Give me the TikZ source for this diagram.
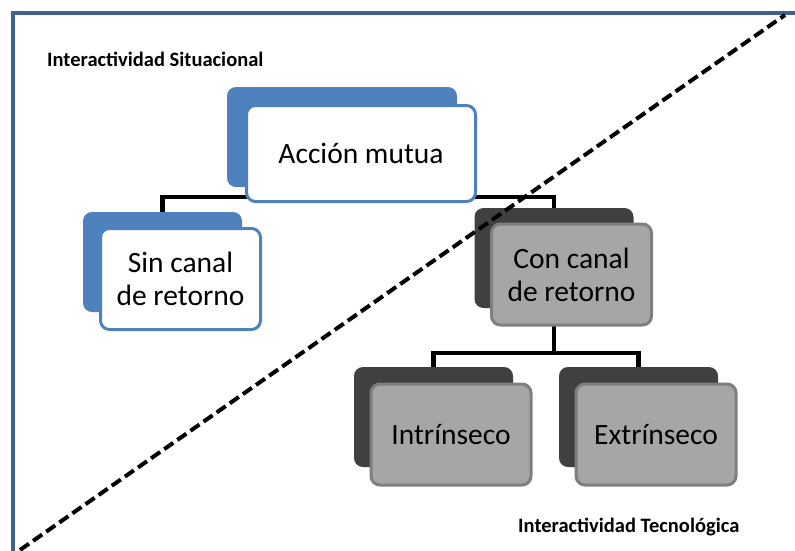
\documentclass[tikz,border=0pt]{standalone}
\usepackage{fontspec}
\setmainfont{Carlito}
\usetikzlibrary{
    backgrounds
}
\definecolor{boxblue}{HTML}{4F81BD}
\definecolor{frameblue}{RGB}{63,98,145}
\definecolor{darkback}{HTML}{404040}
\definecolor{grayfront}{HTML}{A6A6A6}
\definecolor{grayedge}{HTML}{7F7F7F}
\newcommand{\boxtextfont}{\fontsize{29.5}{33}\selectfont}
\tikzset{
    backbox/.style={
        rounded corners=9pt,
        minimum width=159pt,
        minimum height=100pt,
        inner sep=0pt
    },
    frontbox/.style={
        line width=3pt,
        rounded corners=9pt,
        minimum width=160pt,
        minimum height=101pt,
        inner sep=0pt,
        align=center,
        font=\boxtextfont
    },
    backblue/.style={backbox, fill=boxblue},
    frontblue/.style={frontbox, draw=boxblue, fill=white},
    backgray/.style={backbox, fill=darkback},
    frontgray/.style={frontbox, draw=grayedge, fill=grayfront},
    conn/.style={line width=4.5pt, line join=miter},
    cut/.style={line width=4pt, dash pattern=on 11pt off 5pt},
    areatitle/.style={anchor=base west, inner sep=0pt, font=\fontsize{20.5}{24}\selectfont\bfseries}
}

\begin{document}
\begin{tikzpicture}[
    x=1pt,
    y=-1pt
]
    \useasboundingbox (0,0) rectangle (795,550);

    % Nivel 1
    \node[backblue, minimum width=230pt] (accionB) at (342,137)   {};
    \node[frontblue, minimum width=229pt, minimum height=96pt]
                                         (accion)  at (361,153.5) {Acción mutua};

    % Nivel 2
    \node[backblue]  (sinB) at (162.5,262) {};
    \node[frontblue] (sin)  at (180.5,279) {Sin canal\\de retorno};

    \node[backgray]  (conB) at (554,258)   {};
    \node[frontgray] (con)  at (571.5,274.5) {Con canal\\de retorno};

    % Nivel 3
    \node[backgray]  (intB) at (433.5,417)   {};
    \node[frontgray] (int)  at (451,434.5)   {Intrínseco};

    \node[backgray]  (extB) at (638.5,417)   {};
    \node[frontgray] (ext)  at (656,434.5)   {Extrínseco};

    % Zonas
    \node[areatitle] (situ) at (47,66)   {Interactividad Situacional};
    \node[areatitle] (tecn) at (518,532) {Interactividad Tecnológica};

    \coordinate (forkA) at (accion |- 0,197);
    \coordinate (forkB) at (conB |- 0,353);

    % Marco y conexiones
    \begin{scope}[on background layer]
        \draw[frameblue, line width=4pt] (13,600) -- (13,13) -- (850,13);
        \draw[conn] (accion) -- (forkA);
        \draw[conn] (sinB.north) |- (forkA) -| (conB.north);
        \draw[conn] (conB) -- (forkB);
        \draw[conn] (intB.north) |- (forkB) -| (extB.north);
    \end{scope}

    % Division
    \coordinate (cutA) at (20,550);
    \coordinate (cutB) at (785,15);
    \draw[cut] (cutA) -- (cutB);

\end{tikzpicture}
\end{document}
